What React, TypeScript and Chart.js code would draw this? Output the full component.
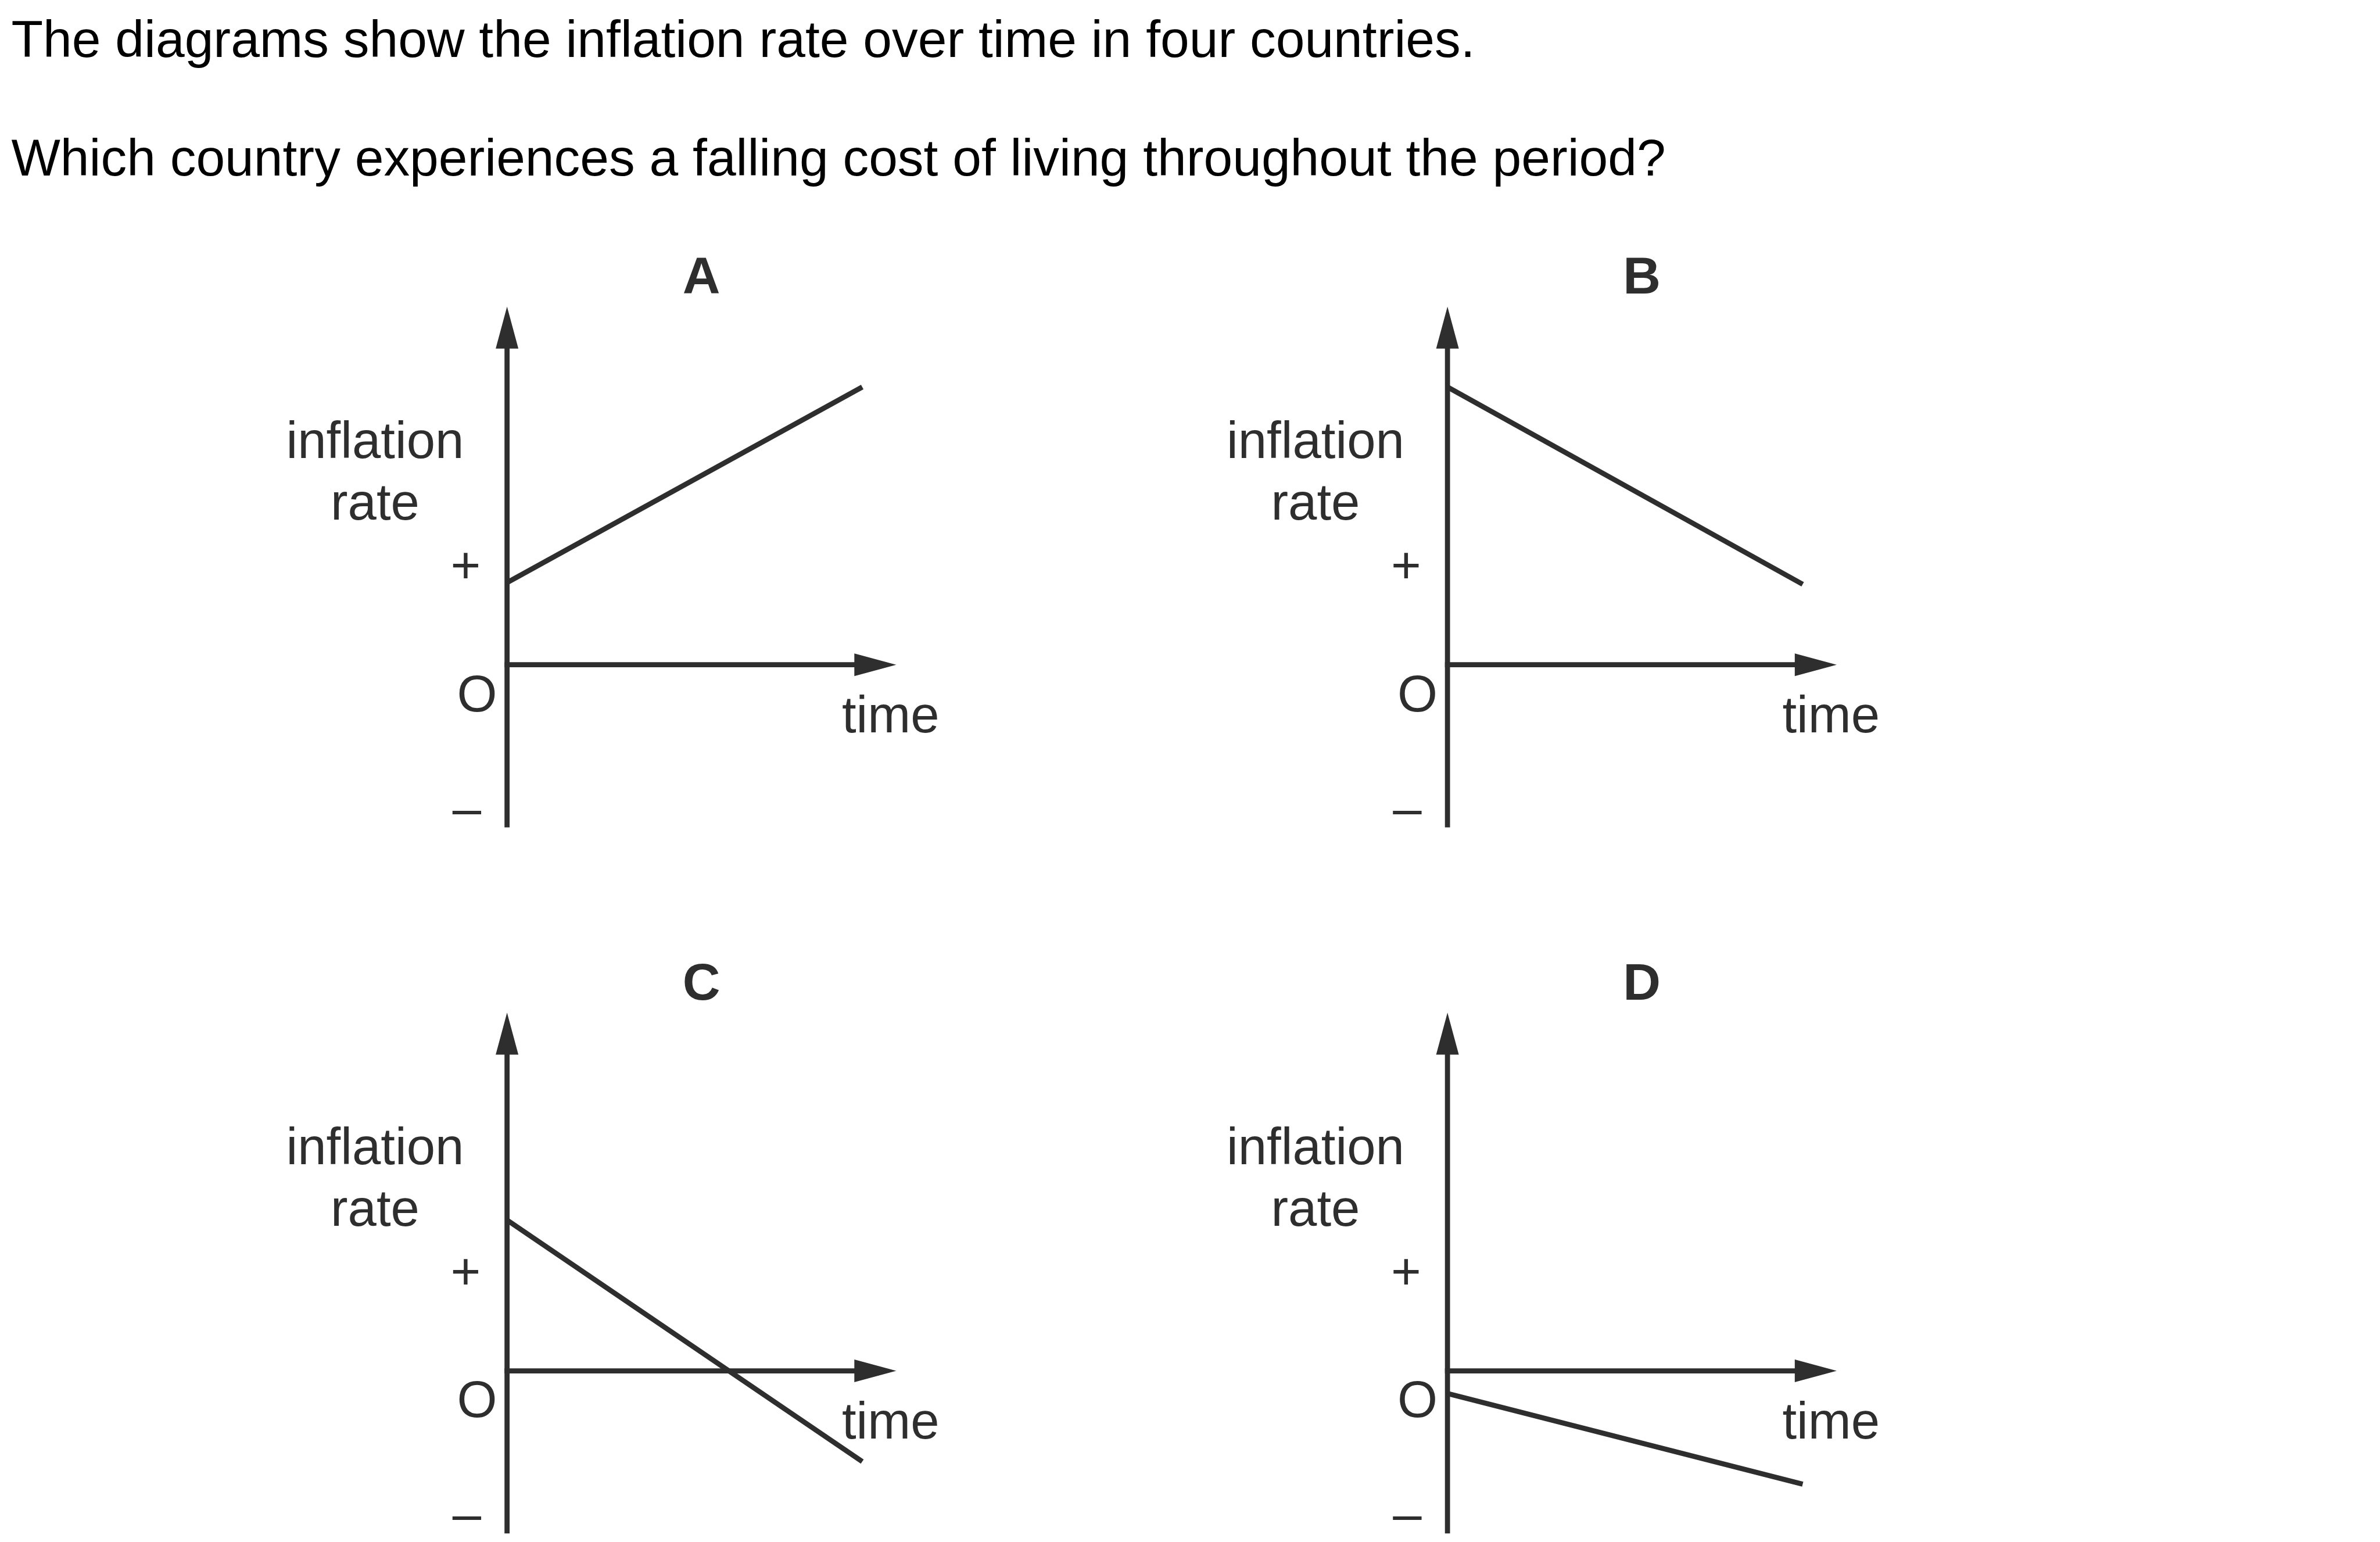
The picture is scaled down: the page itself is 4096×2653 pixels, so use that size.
import React, { useEffect, useRef } from "react";
import { Chart, registerables } from "chart.js";

Chart.register(...registerables);

// ---------- data ----------
const questionLines = [
  "The diagrams show the inflation rate over time in four countries.",
  "Which country experiences a falling cost of living throughout the period?",
];
const panelLetters = ["A", "B", "C", "D"];
const timeValues = [0, 6.27];
const inflationA = [1.45, 4.9];
const inflationB = [4.9, 1.42];
const inflationC = [2.66, -1.6];
const inflationD = [-0.4, -2.0];
const yAxisTitle = ["inflation", "rate"];
const xAxisTitle = "time";
const signLabels = ["+", "O", "–"];
const xAxisMax = 6.87;
const yAxisMin = -2.87;
const yAxisMax = 6.32;

// ---------- layout (reference px) ----------
const S = 0.975;
const UNIT = 100; // reference px per data unit
const INK = "#2e2e2e";
const FONT = "'Liberation Sans', Arial, Helvetica, sans-serif";
const panelOrigins: [number, number][] = [
  [895, 1173],
  [2555, 1173],
  [895, 2419],
  [2555, 2419],
];
// label positions relative to the panel origin (reference px), [dx, dyBaseline]
const labelPos = {
  inflation: [-233, -365],
  rate: [-233, -256],
  signs: [
    [-73, -144],
    [-53, 82],
    [-71, 284],
  ],
  time: [677, 119],
  letter: [343, -655],
};
const CANVAS_LEFT = 450;
const CANVAS_TOP = 760;
const CANVAS_W = 1300;
const CANVAS_H = 1055;

const diagramPlugin = {
  id: "diagram",
  beforeDatasetsDraw(chart: any) {
    const { ctx, scales } = chart;
    const xs = scales.x;
    const ys = scales.y;
    const x0 = xs.getPixelForValue(0);
    const y0 = ys.getPixelForValue(0);
    const yTop = ys.getPixelForValue(yAxisMax);
    const yBot = ys.getPixelForValue(yAxisMin);
    const xEnd = xs.getPixelForValue(xAxisMax);
    const lw = 9 * S;
    const aLen = 74 * S;
    const aHalf = 20 * S;
    ctx.save();
    ctx.strokeStyle = INK;
    ctx.fillStyle = INK;
    ctx.lineWidth = lw;
    ctx.lineCap = "butt";
    ctx.beginPath();
    ctx.moveTo(x0, yBot);
    ctx.lineTo(x0, yTop + aLen - 1);
    ctx.stroke();
    ctx.beginPath();
    ctx.moveTo(x0, yTop);
    ctx.lineTo(x0 - aHalf, yTop + aLen);
    ctx.lineTo(x0 + aHalf, yTop + aLen);
    ctx.closePath();
    ctx.fill();
    ctx.beginPath();
    ctx.moveTo(x0 - lw / 2, y0);
    ctx.lineTo(xEnd - aLen + 1, y0);
    ctx.stroke();
    ctx.beginPath();
    ctx.moveTo(xEnd, y0);
    ctx.lineTo(xEnd - aLen, y0 - aHalf);
    ctx.lineTo(xEnd - aLen, y0 + aHalf);
    ctx.closePath();
    ctx.fill();
    ctx.restore();
  },
  afterDatasetsDraw(chart: any) {
    const { ctx, scales } = chart;
    const letter = chart.options.plugins.diagram.letter;
    const x0 = scales.x.getPixelForValue(0);
    const y0 = scales.y.getPixelForValue(0);
    const fs = 91 * S;
    ctx.save();
    ctx.fillStyle = INK;
    ctx.textAlign = "center";
    ctx.textBaseline = "alphabetic";
    ctx.font = `${fs}px ${FONT}`;
    const put = (t: string, p: number[]) =>
      ctx.fillText(t, x0 + p[0] * S, y0 + p[1] * S);
    put(yAxisTitle[0], labelPos.inflation);
    put(yAxisTitle[1], labelPos.rate);
    signLabels.forEach((s, i) => put(s, labelPos.signs[i]));
    put(xAxisTitle, labelPos.time);
    ctx.font = `bold ${92 * S}px ${FONT}`;
    put(letter, labelPos.letter);
    ctx.restore();
  },
};

function Panel({ letter, values, origin }: { letter: string; values: number[]; origin: [number, number] }) {
  const ref = useRef<HTMLCanvasElement>(null);
  const [ox, oy] = origin;
  const left = Math.round((ox - CANVAS_LEFT) * S);
  const top = Math.round((oy - CANVAS_TOP) * S);
  const width = Math.round(CANVAS_W * S);
  const height = Math.round(CANVAS_H * S);
  useEffect(() => {
    if (!ref.current) return;
    const padLeft = ox * S - left;
    const padRight = width - padLeft - xAxisMax * UNIT * S;
    const padTop = oy * S - top - yAxisMax * UNIT * S;
    const padBottom = height - (oy * S - top - yAxisMin * UNIT * S);
    const chart = new Chart(ref.current, {
      type: "line",
      data: {
        datasets: [
          {
            data: timeValues.map((t, i) => ({ x: t, y: values[i] })),
            borderColor: INK,
            borderWidth: 9 * S,
            pointRadius: 0,
            tension: 0,
            fill: false,
            clip: false as any,
          },
        ],
      },
      options: {
        responsive: false,
        animation: false,
        devicePixelRatio: 1,
        events: [],
        layout: { padding: { left: padLeft, right: padRight, top: padTop, bottom: padBottom } },
        scales: {
          x: { type: "linear", min: 0, max: xAxisMax, display: false },
          y: { type: "linear", min: yAxisMin, max: yAxisMax, display: false },
        },
        plugins: {
          legend: { display: false },
          tooltip: { enabled: false },
          title: { display: false },
          diagram: { letter },
        } as any,
      },
      plugins: [diagramPlugin as any],
    });
    return () => chart.destroy();
  }, []);
  return (
    <canvas
      ref={ref}
      width={width}
      height={height}
      style={{ position: "absolute", left, top, width, height }}
    />
  );
}

export default function App() {
  const fs = 91.7 * S;
  const baselines = [101, 310];
  const series = [inflationA, inflationB, inflationC, inflationD];
  return (
    <div
      style={{
        position: "absolute",
        left: 0,
        top: 0,
        width: 4096,
        height: 2653,
        overflow: "hidden",
        background: "#fff",
      }}
    >
      {questionLines.map((t, i) => (
        <div
          key={i}
          style={{
            position: "absolute",
            left: 20 * S,
            top: baselines[i] * S - 0.8464 * fs,
            fontFamily: FONT,
            fontSize: fs,
            lineHeight: `${fs}px`,
            whiteSpace: "nowrap",
            color: "#000",
          }}
        >
          {t}
        </div>
      ))}
      {panelLetters.map((l, i) => (
        <Panel key={l} letter={l} values={series[i]} origin={panelOrigins[i]} />
      ))}
    </div>
  );
}
